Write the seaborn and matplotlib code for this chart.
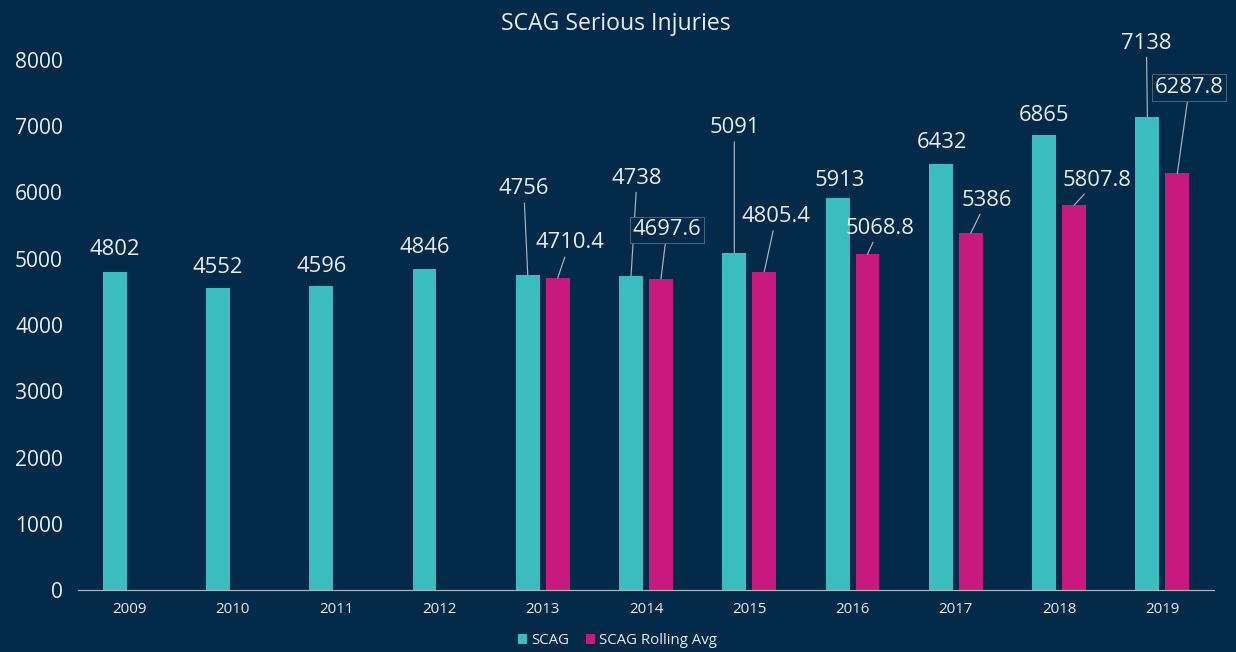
import matplotlib
matplotlib.use('Agg')
import matplotlib.pyplot as plt
import seaborn as sns
import pandas as pd

# ── Data ──────────────────────────────────────────────────────────────
years      = ['2009', '2010', '2011', '2012', '2013', '2014',
              '2015', '2016', '2017', '2018', '2019']
scag       = [4802, 4552, 4596, 4846, 4756, 4738, 5091, 5913, 6432, 6865, 7138]
roll_years = ['2013', '2014', '2015', '2016', '2017', '2018', '2019']
scag_roll  = [4710.4, 4697.6, 4805.4, 5068.8, 5386, 5807.8, 6287.8]
series     = ['SCAG', 'SCAG Rolling Avg']

# label placement (pixel offset from bar top), leader lines, boxed labels
scag_offsets  = [(0, 22), (0, 21), (0, 19), (0, 21), (-4, 86), (6, 98),
                 (0, 125), (2, 18), (1, 21), (0, 20), (-1, 74)]
scag_leader   = [False, False, False, False, True, True,
                 True, False, False, False, True]
roll_offsets  = [(12, 35), (6, 49), (12, 55), (12, 26), (16, 33), (23, 25), (12, 86)]
roll_boxed    = [False, True, False, False, False, False, True]

df = pd.concat([
    pd.DataFrame({'year': years, 'value': scag, 'series': series[0]}),
    pd.DataFrame({'year': roll_years, 'value': scag_roll, 'series': series[1]}),
])

# ── Style ─────────────────────────────────────────────────────────────
BG      = '#032a49'
TEAL    = '#3bbcbf'
MAGENTA = '#c8197f'
TXT     = '#e9eef2'
LINE    = '#a9b4bd'

sns.set_style('dark', {'axes.facecolor': BG, 'figure.facecolor': BG})
plt.rcParams['font.family'] = ['Open Sans', 'DejaVu Sans']

fig = plt.figure(figsize=(1236 / 72, 652 / 72), dpi=72)
ax = fig.add_axes([78 / 1236, 62 / 652, (1214 - 78) / 1236, 530 / 652])

sns.barplot(data=df, x='year', y='value', hue='series', order=years,
            hue_order=series, palette=[TEAL, MAGENTA], width=0.58, gap=0.2,
            saturation=1, linewidth=0, ax=ax)

ax.set_ylim(0, 8000)
ax.set_xlim(-0.5, len(years) - 0.5)
ax.set_yticks(range(0, 8001, 1000))
ax.set_xlabel('')
ax.set_ylabel('')
ax.grid(False)
for s in ['top', 'right', 'left']:
    ax.spines[s].set_visible(False)
ax.spines['bottom'].set_color(LINE)
ax.spines['bottom'].set_linewidth(1.2)
ax.tick_params(axis='y', length=0, pad=15, labelsize=21, labelcolor=TXT)
ax.tick_params(axis='x', length=0, pad=12, labelsize=15, labelcolor=TXT)

ax.set_title('SCAG Serious Injuries', fontsize=23, color=TXT, pad=30, x=0.473)

# ── Value labels ──────────────────────────────────────────────────────
def add_labels(container, vals, offsets, leaders, boxed):
    for bar, v, off, lead, box in zip(container, vals, offsets, leaders, boxed):
        xc = bar.get_x() + bar.get_width() / 2
        bbox = dict(boxstyle='square,pad=0.12',
                    fc=BG if box else 'none',
                    ec='#4f687c' if box else 'none', lw=0.9)
        arrow = dict(arrowstyle='-', color=LINE, lw=1.2,
                     shrinkA=1, shrinkB=0) if lead else None
        ax.annotate(f'{v:g}', xy=(xc, v), xytext=off,
                    textcoords='offset points', ha='center', va='center',
                    fontsize=22, color=TXT, bbox=bbox, arrowprops=arrow)

add_labels(ax.containers[0], scag, scag_offsets, scag_leader,
           [False] * len(scag))
add_labels(ax.containers[1], scag_roll, roll_offsets,
           [True] * len(scag_roll), roll_boxed)

# ── Legend ────────────────────────────────────────────────────────────
sns.move_legend(ax, 'lower center', bbox_to_anchor=(0.475, -0.135), ncol=2,
                frameon=False, title=None, fontsize=15, handlelength=0.6,
                handleheight=0.6, handletextpad=0.3, columnspacing=1.1)
for t in ax.get_legend().get_texts():
    t.set_color(TXT)

fig.savefig('out.png', dpi=72, facecolor=BG)
